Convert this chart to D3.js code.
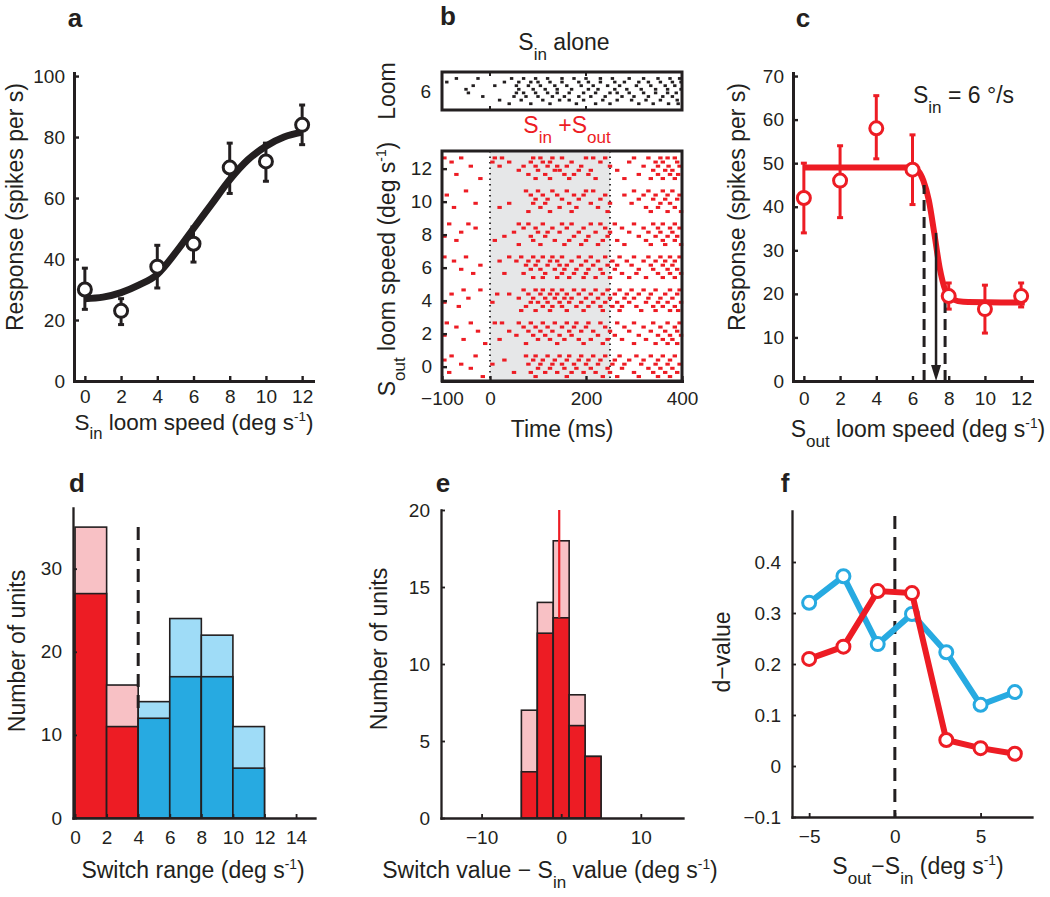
<!DOCTYPE html>
<html><head><meta charset="utf-8">
<script src="https://cdn.jsdelivr.net/npm/d3@7"></script>
<style>body{margin:0;background:#fff;} svg{font-family:"Liberation Sans",Arial,sans-serif;}</style>
</head><body><svg id="c" width="1050" height="897"></svg>
<script>
// ---------- Panel a ----------
const aSpeed = [0,2,4,6,8,10,12];
const aResp  = [30,23,37.5,45,70,72,84];
const aErrLo = [23.5,18.5,30.5,39,61.5,65.5,77.5];
const aErrHi = [37,27,44.5,50.5,78,78,90.5];
const aFitX  = [0,1,2,3,4,5,6,7,8,9,10,11,12];
const aFitY  = [27,27.5,29,31.5,35,42,50,58,66,72.5,77,80,81.6];
const aXTicks = [0,2,4,6,8,10,12];
const aYTicks = [0,20,40,60,80,100];

// ---------- Panel b (raster) ----------
const bXTicks = [-100,0,200,400];
const bYTicks = [0,2,4,6,8,10,12];
const bStimWindow = [0,250];
const sinAlone = [
 [-70,-25,45,70,95,120,150,175,200,230,255,290,320,350,375,395],
 [-90,30,60,85,100,125,150,185,205,230,260,280,310,330,355,380,398],
 [-35,10,55,80,105,135,160,190,215,245,270,305,335,365,385],
 [-50,60,90,115,140,170,205,225,260,285,315,345,370,398],
 [-45,55,70,95,120,140,165,195,220,250,265,290,320,345,370,388],
 [-15,50,75,100,130,155,185,210,240,275,300,330,360,380],
 [20,65,110,145,165,195,235,265,295,325,355,390],
 [40,85,125,180,220,250,310,340,372,392]
];
const rasterSpeeds = [0,2,4,6,8,10,12];
const rasterOut = [
 [ // 0
  [-80,-30,75,95,120,145,165,190,215,240,270,305,335,360,385],
  [-95,30,90,110,135,160,185,205,230,260,290,320,350,375],
  [-60,5,80,105,130,150,175,200,225,255,280,315,345,370,395],
  [-40,100,125,155,180,210,245,275,330,355,380],
  [-85,50,85,115,140,170,195,220,250,300,340,365,390],
  [-15,95,160,235,265,310,350,375]
 ],
 [ // 2
  [-90,-40,10,25,60,85,110,135,160,180,205,230,265,300,340,370,395],
  [-70,70,95,120,150,175,200,240,280,320,355,385],
  [-25,40,80,105,130,165,190,215,250,290,335,365,390],
  [-95,55,90,115,145,170,225,260,310,350,375,398],
  [-55,20,100,125,155,185,210,245,275,325,360,380],
  [-10,75,140,195,235,300,345,370,390]
 ],
 [ // 4
  [-55,-20,70,95,110,130,150,175,195,220,245,270,295,320,345,375,395],
  [-80,15,40,80,105,125,140,160,185,210,235,260,285,310,335,365,390],
  [-45,60,90,115,135,155,170,200,225,250,280,300,330,355,380],
  [-95,5,85,100,120,145,165,190,215,240,265,290,325,350,370,398],
  [-65,75,110,130,150,180,205,230,255,275,305,340,360,385],
  [65,95,125,160,195,235,270,315,345,375,392]
 ],
 [ // 6
  [-95,-50,40,65,90,110,130,150,185,210,240,270,300,330,355,375,395],
  [-75,20,55,80,100,125,140,170,200,225,255,285,320,345,365,385],
  [-20,75,95,120,145,160,190,215,245,265,295,335,360,380],
  [-60,85,105,135,155,180,205,230,260,310,340,370,390],
  [-35,30,70,115,150,175,200,235,275,305,350,375,398],
  [90,110,140,165,195,220,250,290,325,360,385]
 ],
 [ // 8
  [-85,-45,60,80,110,150,170,210,230,260,300,340,360,385],
  [-30,70,95,130,160,195,240,275,320,350,375,395],
  [-60,50,100,120,145,185,220,250,290,330,355,380],
  [-95,30,85,115,175,205,245,310,345,370,390],
  [-70,10,90,135,165,200,235,265,325,360,385],
  [60,105,155,190,225,280,335,365,398]
 ],
 [ // 10
  [-50,75,100,130,160,200,215,300,330,360,380],
  [-90,85,110,140,175,195,240,280,320,345,370,395],
  [95,120,150,185,230,310,340,365,390],
  [-30,40,90,115,165,210,250,295,355,375],
  [-75,20,105,145,180,225,325,350,385],
  [80,125,170,245,335,370,398]
 ],
 [ // 12
  [-95,-60,10,25,90,105,130,150,200,215,240,300,330,355,370,385],
  [-80,5,40,85,110,125,170,230,290,345,360,390],
  [-40,20,70,95,120,140,160,190,250,320,350,372,395],
  [60,100,135,145,185,210,265,340,365,380],
  [-70,80,115,155,175,205,310,350,375,392],
  [-20,95,125,165,220,280,335,360,385]
 ]
];

// ---------- Panel c ----------
const cSpeed = [0,2,4,6,8,10,12];
const cResp  = [42,46,58,48.5,19.5,16.5,19.5];
const cErrLo = [34,37.5,51,40.5,16.5,11,17];
const cErrHi = [50,54,65.5,56.5,22.5,22,22.5];
const cFitX  = [0,6,6.3,6.6,6.9,7.2,7.5,7.8,8.2,8.8,12.2];
const cFitY  = [49,49,48.3,46,41.5,34,26,21,18.8,18.2,18];
const cDashed = [[6.64,45],[7.8,20.5]];
const cArrow = [7.3,34];
const cXTicks = [0,2,4,6,8,10,12];
const cYTicks = [0,10,20,30,40,50,60,70];

// ---------- Panel d ----------
const dBinStart = [0,2,4,6,8,10];
const dTotal = [35,16,14,24,22,11];
const dDark  = [27,11,12,17,17,6];
const dGroup = ['red','red','blue','blue','blue','blue'];
const dXTicks = [0,2,4,6,8,10,12,14];
const dYTicks = [0,10,20,30];
const dDash = [4,13,35];

// ---------- Panel e ----------
const eBinStart = [-5,-3,-1,1,3];
const eTotal = [7,14,18,8,4];
const eDark  = [3,12,13,6,4];
const eMedian = -0.25;
const eXTicks = [-10,0,10];
const eYTicks = [0,5,10,15,20];

// ---------- Panel f ----------
const fX = [-5,-3,-1,1,3,5,7];
const fBlue = [0.32,0.372,0.239,0.298,0.223,0.12,0.145];
const fRed  = [0.21,0.234,0.343,0.339,0.051,0.035,0.024];
const fXTicks = [-5,0,5];
const fYTicks = [-0.1,0,0.1,0.2,0.3,0.4];

// ================= drawing =================
const ink = '#231f20', RED = '#ed1c24', PINK = '#f8c1c5', BLUE = '#27aae1', LBLUE = '#9fdcf7';
const svg = d3.select('#c');
const TICKFS = 19, LABFS = 23;

function styleAxis(g, w) {
  g.attr('font-size', null).attr('font-family', null);
  g.select('.domain').attr('stroke', ink).attr('stroke-width', w).attr('stroke-linecap','square');
  g.selectAll('.tick line').attr('stroke', ink).attr('stroke-width', w * 0.8);
  g.selectAll('.tick text').attr('font-size', TICKFS).attr('fill', ink);
}
function rich(x, y, parts, o = {}) {
  const size = o.size || LABFS;
  const t = svg.append('text').attr('x', x).attr('y', y)
    .attr('text-anchor', o.anchor || 'middle').attr('font-size', size)
    .attr('fill', o.fill || ink);
  if (o.rotate) t.attr('transform', `rotate(-90,${x},${y})`);
  let cur = 0;
  parts.forEach(p => {
    const [s, k] = Array.isArray(p) ? p : [p, null];
    const target = k === 'sub' ? 0.42 * size : k === 'sup' ? -0.38 * size : 0;
    const sp = t.append('tspan').attr('dy', target - cur).text(s);
    if (k === 'sub') sp.attr('font-size', size * 0.74);
    if (k === 'sup') sp.attr('font-size', size * 0.6);
    cur = target;
  });
  return t;
}
function title(x, y, s) {
  svg.append('text').attr('x', x).attr('y', y).attr('text-anchor','middle')
    .attr('font-size', 26).attr('font-weight', 'bold').attr('fill', ink).text(s);
}
function errorPoints(g, x, y, xs, ys, lo, hi, col) {
  xs.forEach((v, i) => {
    g.append('line').attr('x1', x(v)).attr('x2', x(v)).attr('y1', y(lo[i])).attr('y2', y(hi[i]))
      .attr('stroke', col).attr('stroke-width', 3);
    [lo[i], hi[i]].forEach(e => g.append('line').attr('x1', x(v) - 3).attr('x2', x(v) + 3)
      .attr('y1', y(e)).attr('y2', y(e)).attr('stroke', col).attr('stroke-width', 3));
  });
}
function circles(g, x, y, xs, ys, col) {
  g.selectAll(null).data(xs).enter().append('circle')
    .attr('cx', d => x(d)).attr('cy', (d, i) => y(ys[i])).attr('r', 6.5)
    .attr('fill', '#fff').attr('stroke', col).attr('stroke-width', 3);
}

// ---- Panel a ----
{
  const x = d3.scaleLinear().domain([-0.6, 12.6]).range([74, 313]);
  const y = d3.scaleLinear().domain([0, 101]).range([381, 73]);
  const g = svg.append('g');
  styleAxis(g.append('g').attr('transform','translate(0,381)')
    .call(d3.axisBottom(x).tickValues(aXTicks).tickSizeInner(-5).tickSizeOuter(0).tickPadding(9)), 3);
  styleAxis(g.append('g').attr('transform','translate(74,0)')
    .call(d3.axisLeft(y).tickValues(aYTicks).tickSizeInner(-5).tickSizeOuter(0).tickPadding(9)), 3);
  errorPoints(g, x, y, aSpeed, aResp, aErrLo, aErrHi, ink);
  g.append('path').datum(aFitX).attr('fill','none').attr('stroke', ink).attr('stroke-width', 7)
    .attr('d', d3.line().x(d => x(d)).y((d, i) => y(aFitY[i])).curve(d3.curveMonotoneX));
  circles(g, x, y, aSpeed, aResp, ink);
  title(75, 27, 'a');
  rich(194, 430, ['S', ['in','sub'], ' loom speed (deg s', ['-1','sup'], ')'], {size: 22.5});
  rich(23, 207, ['Response (spikes per s)'], {rotate: true});
}

// ---- Panel b ----
{
  const x = d3.scaleLinear().domain([-100, 400]).range([442, 682]);
  const yTop = d3.scaleLinear().domain([5, 7]).range([110, 72]);
  const y = d3.scaleLinear().domain([-0.9, 13.1]).range([381.5, 150.5]);
  const g = svg.append('g');
  // top box
  sinAlone.forEach((tr, j) => {
    tr.forEach(t => g.append('rect').attr('x', x(t) - 1.7).attr('y', yTop(6.66 - j * 0.19) - 1.4)
      .attr('width', 3.4).attr('height', 2.8).attr('fill', ink));
  });
  g.append('rect').attr('x', 442).attr('y', 72).attr('width', 240).attr('height', 38)
    .attr('fill','none').attr('stroke', ink).attr('stroke-width', 3);
  [0, 200].forEach(t => {
    g.append('line').attr('x1', x(t)).attr('x2', x(t)).attr('y1', 110).attr('y2', 106).attr('stroke', ink).attr('stroke-width', 2);
    g.append('line').attr('x1', x(t)).attr('x2', x(t)).attr('y1', 72).attr('y2', 76).attr('stroke', ink).attr('stroke-width', 2);
  });
  g.append('text').attr('x', 431).attr('y', yTop(6)).attr('dy','0.35em').attr('text-anchor','end')
    .attr('font-size', TICKFS).attr('fill', ink).text('6');
  rich(395, 91, ['Loom'], {rotate: true});
  rich(564, 50, ['S', ['in','sub'], ' alone']);
  rich(567, 133, ['S', ['in','sub'], ' +S', ['out','sub']], {fill: RED});

  // bottom raster
  g.append('rect').attr('x', x(bStimWindow[0])).attr('y', 151).attr('width', x(bStimWindow[1]) - x(bStimWindow[0]))
    .attr('height', 230).attr('fill', '#e6e7e8');
  bStimWindow.forEach(t => g.append('line').attr('x1', x(t)).attr('x2', x(t)).attr('y1', 151).attr('y2', 381)
    .attr('stroke', ink).attr('stroke-width', 1.8).attr('stroke-dasharray', '1.5,4'));
  rasterOut.forEach((trials, si) => {
    const s = rasterSpeeds[si];
    trials.forEach((tr, j) => {
      tr.forEach(t => g.append('rect').attr('x', x(t) - 2.2).attr('y', y(s + 0.65 - j * 0.25) - 1.5)
        .attr('width', 4.4).attr('height', 3).attr('fill', RED));
    });
  });
  const ax1 = g.append('g').attr('transform','translate(0,381)')
    .call(d3.axisBottom(x).tickValues(bXTicks).tickSizeInner(-5).tickSizeOuter(0).tickPadding(11));
  styleAxis(ax1, 3);
  const ax2 = g.append('g').attr('transform','translate(442,0)')
    .call(d3.axisLeft(y).tickValues(bYTicks).tickSizeInner(-5).tickSizeOuter(0).tickPadding(10));
  styleAxis(ax2, 3);
  ax2.select('.domain').remove();
  g.append('rect').attr('x', 442).attr('y', 151).attr('width', 240).attr('height', 230)
    .attr('fill','none').attr('stroke', ink).attr('stroke-width', 3);
  rich(562, 437, ['Time (ms)']);
  rich(395, 269, ['S', ['out','sub'], ' loom speed (deg s', ['-1','sup'], ')'], {rotate: true});
  title(448, 25, 'b');
}

// ---- Panel c ----
{
  const x = d3.scaleLinear().domain([-0.6, 12.6]).range([793, 1032]);
  const y = d3.scaleLinear().domain([0, 70.7]).range([381, 73]);
  const g = svg.append('g');
  styleAxis(g.append('g').attr('transform','translate(0,381)')
    .call(d3.axisBottom(x).tickValues(cXTicks).tickSizeInner(-5).tickSizeOuter(0).tickPadding(11)), 3);
  styleAxis(g.append('g').attr('transform','translate(793,0)')
    .call(d3.axisLeft(y).tickValues(cYTicks).tickSizeInner(-5).tickSizeOuter(0).tickPadding(9)), 3);
  errorPoints(g, x, y, cSpeed, cResp, cErrLo, cErrHi, RED);
  g.append('path').datum(cFitX).attr('fill','none').attr('stroke', RED).attr('stroke-width', 6)
    .attr('d', d3.line().x(d => x(d)).y((d, i) => y(cFitY[i])).curve(d3.curveMonotoneX));
  cDashed.forEach(([v, top]) => g.append('line').attr('x1', x(v)).attr('x2', x(v)).attr('y1', y(0)).attr('y2', y(top))
    .attr('stroke', ink).attr('stroke-width', 3).attr('stroke-dasharray', '11,6'));
  g.append('line').attr('x1', x(cArrow[0])).attr('x2', x(cArrow[0])).attr('y1', y(cArrow[1])).attr('y2', y(0) - 12)
    .attr('stroke', ink).attr('stroke-width', 2.5);
  const ax = x(cArrow[0]), ay = y(0);
  g.append('path').attr('d', `M${ax - 5},${ay - 16}L${ax + 5},${ay - 16}L${ax},${ay}Z`).attr('fill', ink);
  circles(g, x, y, cSpeed, cResp, RED);
  rich(913, 103, ['S', ['in','sub'], ' = 6 °/s'], {anchor: 'start'});
  rich(918, 437, ['S', ['out','sub'], ' loom speed (deg s', ['-1','sup'], ')']);
  rich(745, 207, ['Response (spikes per s)'], {rotate: true});
  title(803, 27, 'c');
}

// ---- Panel d ----
{
  const x = d3.scaleLinear().domain([-0.13, 15.2]).range([73, 315]);
  const y = d3.scaleLinear().domain([0, 37.3]).range([818, 508]);
  const g = svg.append('g');
  dBinStart.forEach((b, i) => {
    const light = dGroup[i] === 'red' ? PINK : LBLUE, dark = dGroup[i] === 'red' ? RED : BLUE;
    g.append('rect').attr('x', x(b)).attr('y', y(dTotal[i])).attr('width', x(b + 2) - x(b)).attr('height', y(0) - y(dTotal[i]))
      .attr('fill', light).attr('stroke', ink).attr('stroke-width', 1.6);
    g.append('rect').attr('x', x(b)).attr('y', y(dDark[i])).attr('width', x(b + 2) - x(b)).attr('height', y(0) - y(dDark[i]))
      .attr('fill', dark).attr('stroke', ink).attr('stroke-width', 1.6);
  });
  g.append('line').attr('x1', x(dDash[0])).attr('x2', x(dDash[0])).attr('y1', y(dDash[2])).attr('y2', y(dDash[1]))
    .attr('stroke', ink).attr('stroke-width', 3).attr('stroke-dasharray', '13,8');
  styleAxis(g.append('g').attr('transform','translate(0,818)')
    .call(d3.axisBottom(x).tickValues(dXTicks).tickSizeInner(-4).tickSizeOuter(0).tickPadding(13)), 2.3);
  styleAxis(g.append('g').attr('transform','translate(73,0)')
    .call(d3.axisLeft(y).tickValues(dYTicks).tickSizeInner(-4).tickSizeOuter(0).tickPadding(11)), 2.3);
  rich(193, 878, ['Switch range (deg s', ['-1','sup'], ')']);
  rich(25, 651, ['Number of units'], {rotate: true});
  title(77, 492, 'd');
}

// ---- Panel e ----
{
  const x = d3.scaleLinear().domain([-15.1, 15.3]).range([441, 683]);
  const y = d3.scaleLinear().domain([0, 20]).range([818, 510]);
  const g = svg.append('g');
  eBinStart.forEach((b, i) => {
    g.append('rect').attr('x', x(b)).attr('y', y(eTotal[i])).attr('width', x(b + 2) - x(b)).attr('height', y(0) - y(eTotal[i]))
      .attr('fill', PINK).attr('stroke', ink).attr('stroke-width', 1.6);
    g.append('rect').attr('x', x(b)).attr('y', y(eDark[i])).attr('width', x(b + 2) - x(b)).attr('height', y(0) - y(eDark[i]))
      .attr('fill', RED).attr('stroke', ink).attr('stroke-width', 1.6);
  });
  g.append('line').attr('x1', x(eMedian)).attr('x2', x(eMedian)).attr('y1', y(20)).attr('y2', y(13))
    .attr('stroke', RED).attr('stroke-width', 2.2);
  styleAxis(g.append('g').attr('transform','translate(0,818)')
    .call(d3.axisBottom(x).tickValues(eXTicks).tickSizeInner(-4).tickSizeOuter(0).tickPadding(13)), 2.3);
  styleAxis(g.append('g').attr('transform','translate(441,0)')
    .call(d3.axisLeft(y).tickValues(eYTicks).tickSizeInner(-4).tickSizeOuter(0).tickPadding(11)), 2.3);
  rich(550, 878, ['Switch value − S', ['in','sub'], ' value (deg s', ['-1','sup'], ')']);
  rich(387, 649, ['Number of units'], {rotate: true});
  title(443, 492, 'e');
}

// ---- Panel f ----
{
  const x = d3.scaleLinear().domain([-6, 8]).range([792, 1032]);
  const y = d3.scaleLinear().domain([-0.1, 0.5]).range([817, 511]);
  const g = svg.append('g');
  g.append('line').attr('x1', x(0)).attr('x2', x(0)).attr('y1', y(0.49)).attr('y2', y(-0.1))
    .attr('stroke', ink).attr('stroke-width', 3).attr('stroke-dasharray', '13,8');
  const line = vals => d3.line().x(d => x(d)).y((d, i) => y(vals[i]));
  g.append('path').datum(fX).attr('fill','none').attr('stroke', BLUE).attr('stroke-width', 6).attr('d', line(fBlue));
  circles(g, x, y, fX, fBlue, BLUE);
  g.append('path').datum(fX).attr('fill','none').attr('stroke', RED).attr('stroke-width', 6).attr('d', line(fRed));
  circles(g, x, y, fX, fRed, RED);
  styleAxis(g.append('g').attr('transform','translate(0,817)')
    .call(d3.axisBottom(x).tickValues(fXTicks).tickSizeInner(-4).tickSizeOuter(0).tickPadding(13)), 2.3);
  styleAxis(g.append('g').attr('transform','translate(792,0)')
    .call(d3.axisLeft(y).tickValues(fYTicks).tickFormat(d3.format('.1~f')).tickSizeInner(-4).tickSizeOuter(0).tickPadding(11)), 2.3);
  rich(918, 874, ['S', ['out','sub'], '−S', ['in','sub'], ' (deg s', ['-1','sup'], ')']);
  rich(730, 652, ['d−value'], {rotate: true});
  title(785, 492, 'f');
}
</script></body></html>
